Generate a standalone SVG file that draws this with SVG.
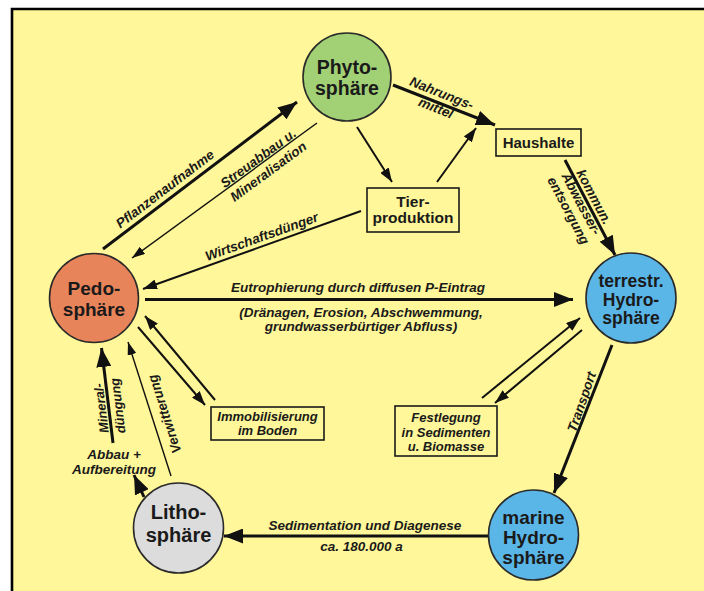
<svg xmlns="http://www.w3.org/2000/svg" width="704" height="591" viewBox="0 0 704 591">
<defs>
<style>
.node{stroke:#2a2a2a;stroke-width:1.6}
.nt{font-family:"Liberation Sans",Arial,sans-serif;font-weight:bold;fill:#1a1a1a;text-anchor:middle}
.lb{font-family:"Liberation Sans",Arial,sans-serif;font-weight:bold;font-style:italic;font-size:13.5px;fill:#1a1a1a;text-anchor:middle}
.bx{fill:#FFF799;stroke:#1a1a1a;stroke-width:1.6}
.thick{stroke:#111;stroke-width:3;fill:none;marker-end:url(#big)}
.med{stroke:#111;stroke-width:2;fill:none;marker-end:url(#mid)}
.thin{stroke:#111;stroke-width:1.4;fill:none;marker-end:url(#small)}
</style>
<marker id="big" markerUnits="userSpaceOnUse" markerWidth="19" markerHeight="15" refX="19" refY="7.5" orient="auto"><path d="M0,0 L19,7.5 L0,15 z" fill="#111"/></marker>
<marker id="mid" markerUnits="userSpaceOnUse" markerWidth="14" markerHeight="10" refX="14" refY="5" orient="auto"><path d="M0,0 L14,5 L0,10 z" fill="#111"/></marker>
<marker id="small" markerUnits="userSpaceOnUse" markerWidth="13" markerHeight="9" refX="13" refY="4.5" orient="auto"><path d="M0,0 L13,4.5 L0,9 z" fill="#111"/></marker>
</defs>
<rect x="0" y="0" width="704" height="591" fill="#ffffff"/>
<rect x="12" y="9" width="692" height="582" fill="#FFF799"/>
<path d="M12,591 L12,9 L704,9" fill="none" stroke="#000" stroke-width="2.6"/>

<g id="connectors">
<line class="thick" x1="103" y1="249" x2="297" y2="102"/>
<line class="thin" x1="317" y1="123" x2="132" y2="258"/>
<line class="med" x1="361" y1="211" x2="143" y2="289"/>
<line class="med" x1="357" y1="127" x2="392" y2="182"/>
<line class="med" x1="437" y1="182" x2="476" y2="128"/>
<line class="thick" x1="393" y1="85" x2="495" y2="125"/>
<line class="thick" x1="565" y1="160" x2="615" y2="255"/>
<line class="thick" x1="145" y1="299.5" x2="573" y2="299.5"/>
<line class="med" x1="138" y1="327" x2="205" y2="405"/>
<line class="med" x1="215" y1="400" x2="145" y2="316"/>
<line class="thick" x1="113" y1="443" x2="101.5" y2="348"/>
<line class="thin" x1="171" y1="476" x2="128" y2="342"/>
<line class="thick" x1="144" y1="497" x2="134" y2="475"/>
<line class="med" x1="482" y1="398" x2="580" y2="318"/>
<line class="med" x1="582" y1="330" x2="495" y2="403"/>
<line class="thick" x1="612" y1="345" x2="554" y2="493"/>
<line class="thick" x1="488" y1="536" x2="224" y2="536"/>

<text class="lb" transform="translate(165,189) rotate(-37.2)" y="4.5">Pflanzenaufnahme</text>
<text class="lb" transform="translate(258.3,158.3) rotate(-36.3)" y="4.5">Streuabbau u.</text>
<text class="lb" transform="translate(268.3,171.7) rotate(-36.3)" y="4.5">Mineralisation</text>
<text class="lb" transform="translate(261.7,236.7) rotate(-19.7)" y="4.5">Wirtschaftsdünger</text>
<text class="lb" transform="translate(441.7,93.3) rotate(21.5)" y="4.5">Nahrungs-</text>
<text class="lb" transform="translate(436,108) rotate(21.5)" y="4.5">mittel</text>
<text class="lb" transform="translate(594,197) rotate(62)" y="4.5">kommun.</text>
<text class="lb" transform="translate(581.2,203.8) rotate(62)" y="4.5">Abwasser-</text>
<text class="lb" transform="translate(568.4,210.6) rotate(62)" y="4.5">entsorgung</text>
<text class="lb" x="358" y="292">Eutrophierung durch diffusen P-Eintrag</text>
<text class="lb" x="361" y="317">(Dränagen, Erosion, Abschwemmung,</text>
<text class="lb" x="361" y="331">grundwasserbürtiger Abfluss)</text>
<text class="lb" style="font-size:13px" transform="translate(101.3,408.3) rotate(-96.8)" y="4.5">Mineral-</text>
<text class="lb" style="font-size:13px" transform="translate(117.7,405.7) rotate(-96.8)" y="4.5">düngung</text>
<text class="lb" transform="translate(164.5,414) rotate(-108)" y="4.5">Verwitterung</text>
<text class="lb" x="114" y="459">Abbau +</text>
<text class="lb" x="114" y="474">Aufbereitung</text>
<text class="lb" transform="translate(581.7,402) rotate(-70.8)" y="4.5">Transport</text>
<text class="lb" x="365" y="530">Sedimentation und Diagenese</text>
<text class="lb" x="361.5" y="551">ca. 180.000 a</text>
</g>

<g id="phyto">
<circle class="node" cx="347" cy="77" r="44" fill="#A2D075"/>
<text class="nt" x="347" y="73.5" font-size="19.5">Phyto-</text>
<text class="nt" x="347" y="95" font-size="19.5">sphäre</text>
</g>
<g id="pedo">
<circle class="node" cx="94" cy="298" r="44.5" fill="#E8845A"/>
<text class="nt" x="94" y="295" font-size="19">Pedo-</text>
<text class="nt" x="94" y="316" font-size="19">sphäre</text>
</g>
<g id="terrestr">
<circle class="node" cx="631" cy="298" r="45" fill="#5BB6E8"/>
<text class="nt" x="631" y="287" font-size="17.5">terrestr.</text>
<text class="nt" x="631" y="305.5" font-size="17.5">Hydro-</text>
<text class="nt" x="631" y="324" font-size="17.5">sphäre</text>
</g>
<g id="marine">
<circle class="node" cx="533.5" cy="535" r="45" fill="#5BB6E8"/>
<text class="nt" x="533.5" y="523.5" font-size="19">marine</text>
<text class="nt" x="533.5" y="543.5" font-size="19">Hydro-</text>
<text class="nt" x="533.5" y="563.5" font-size="19">sphäre</text>
</g>
<g id="litho">
<circle class="node" cx="178.5" cy="528" r="45" fill="#DCDCDC"/>
<text class="nt" x="178.5" y="518.5" font-size="20">Litho-</text>
<text class="nt" x="178.5" y="541.5" font-size="20">sphäre</text>
</g>
<g id="haushalte">
<rect class="bx" x="496" y="129" width="85" height="27"/>
<text class="nt" x="538.5" y="147.5" font-size="15">Haushalte</text>
</g>
<g id="tier">
<rect class="bx" x="367" y="188" width="92" height="44"/>
<text class="nt" x="413" y="207" font-size="15.5">Tier-</text>
<text class="nt" x="413" y="223" font-size="15.5">produktion</text>
</g>
<g id="immob">
<rect class="bx" x="211" y="407" width="113" height="33"/>
<text class="lb" x="267.5" y="421" style="font-size:13px">Immobilisierung</text>
<text class="lb" x="267.5" y="435" style="font-size:13px">im Boden</text>
</g>
<g id="festlegung">
<rect class="bx" x="395" y="406" width="102" height="50"/>
<text class="lb" x="446" y="422" style="font-size:13px">Festlegung</text>
<text class="lb" x="446" y="437" style="font-size:13px">in Sedimenten</text>
<text class="lb" x="446" y="451" style="font-size:13px">u. Biomasse</text>
</g>
</svg>
